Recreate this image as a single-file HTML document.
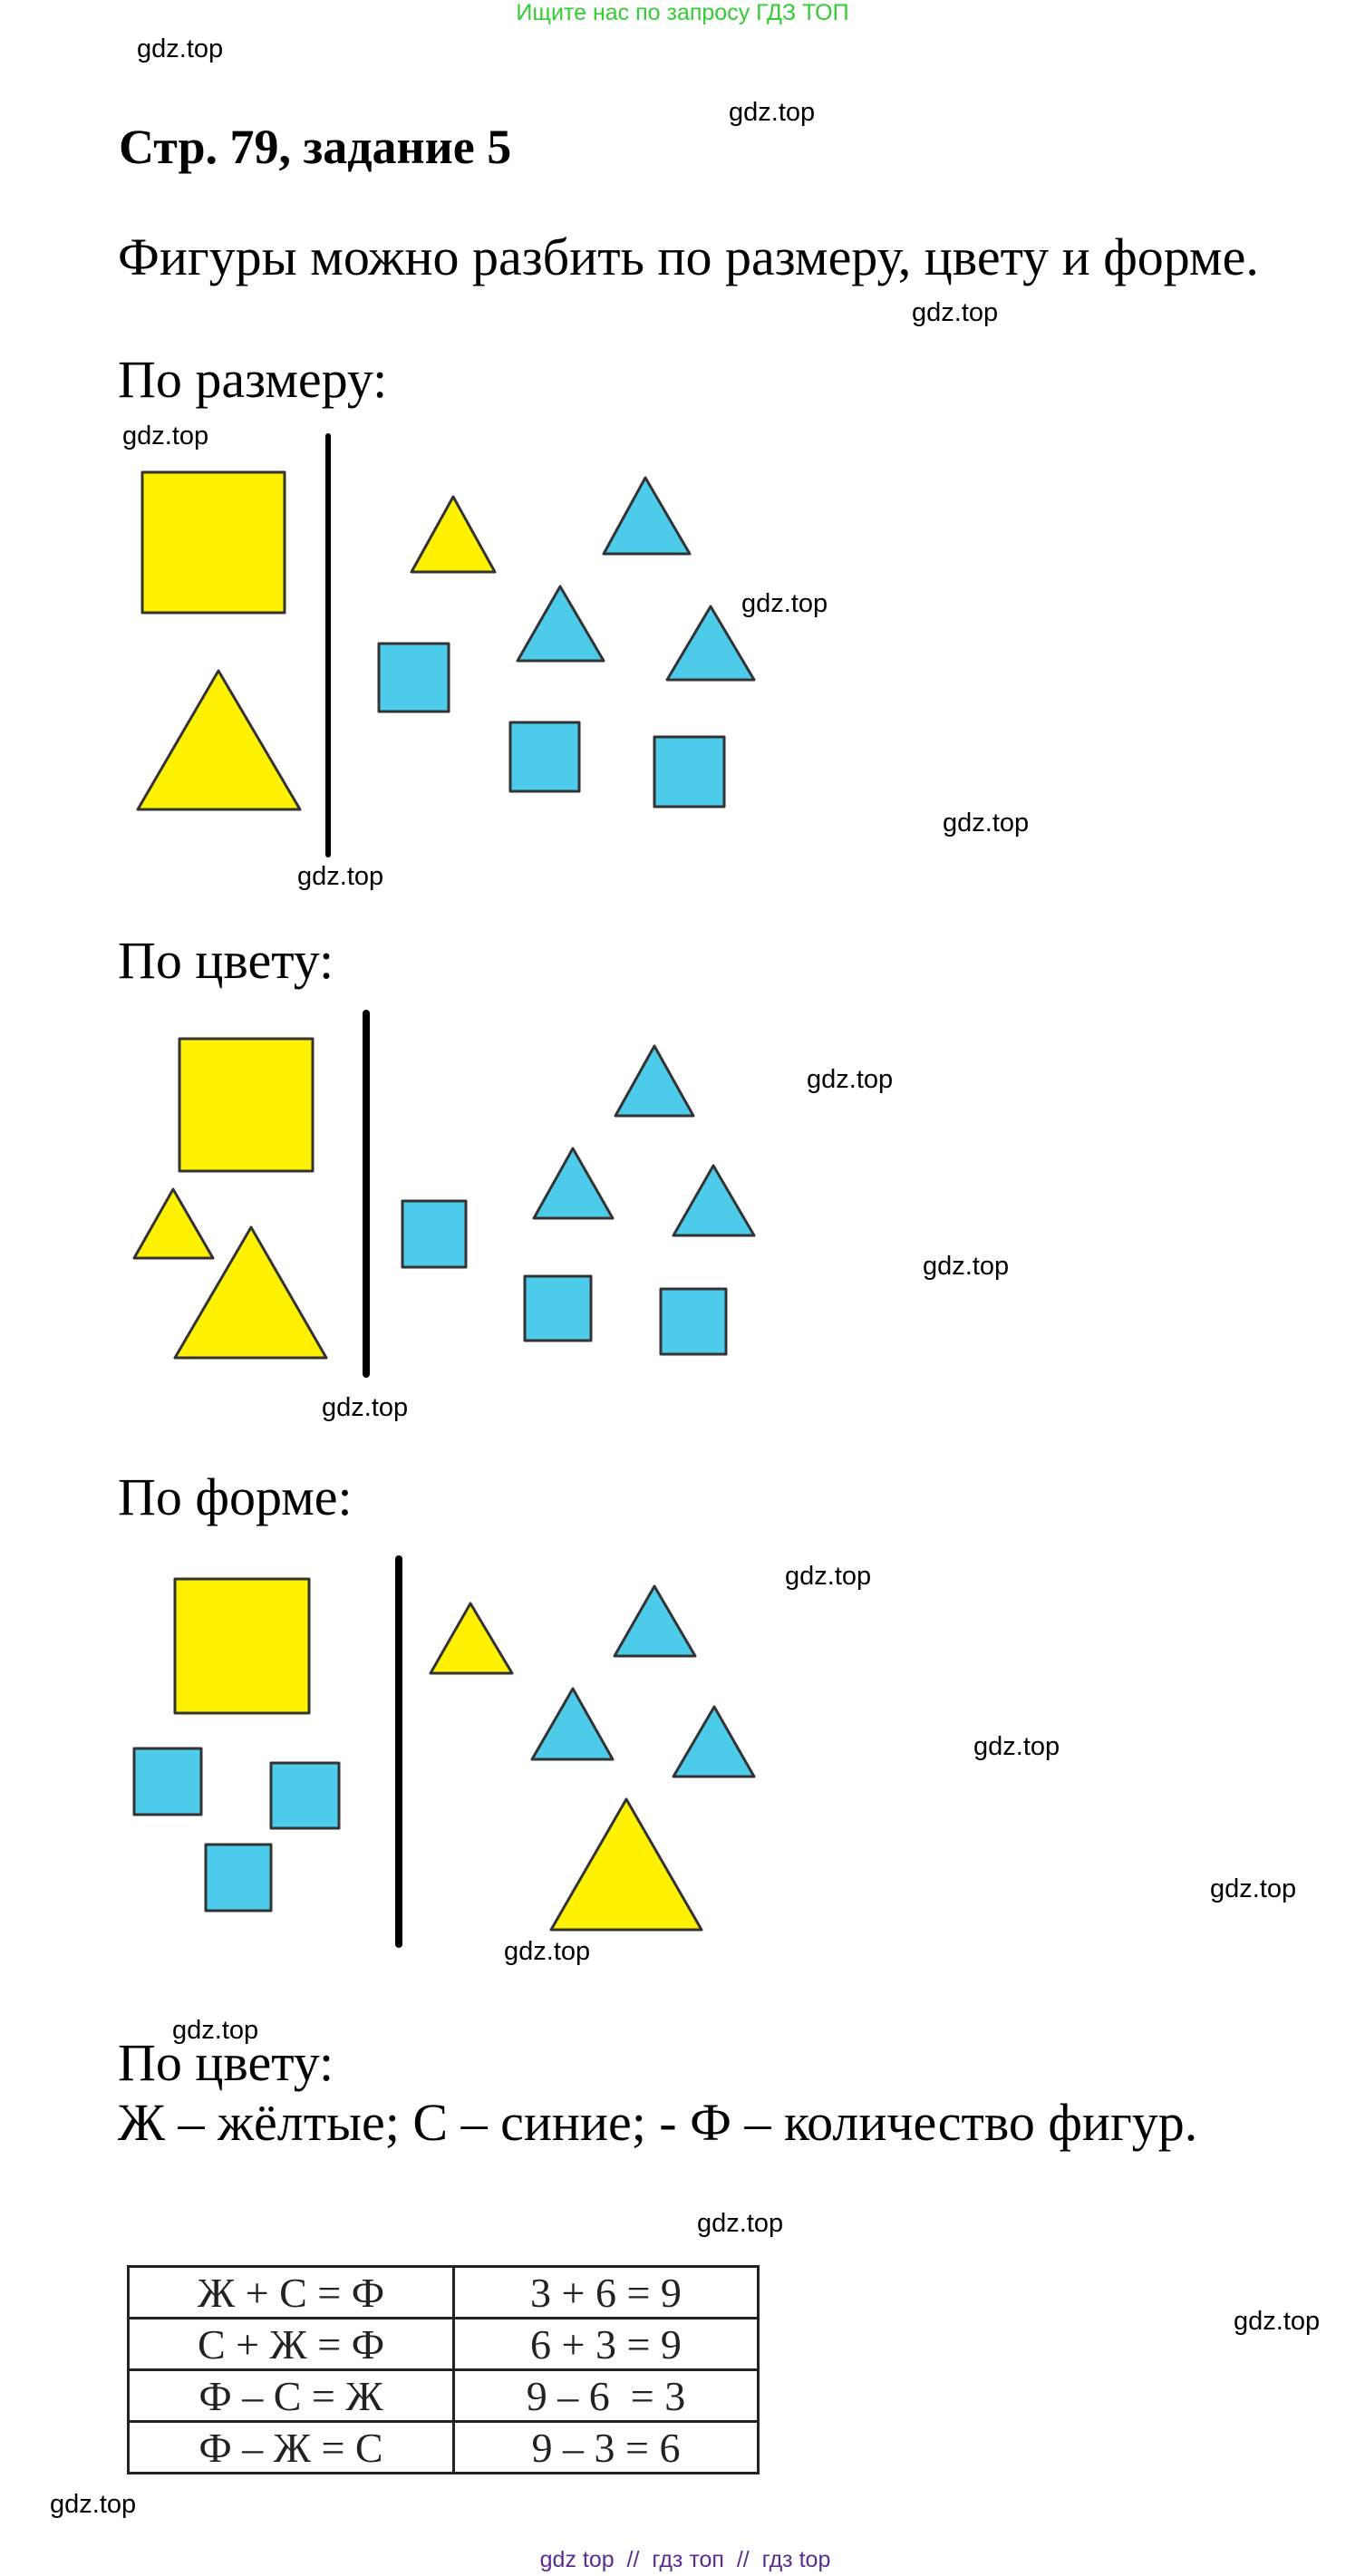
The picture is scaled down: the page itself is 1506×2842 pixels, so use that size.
<!DOCTYPE html>
<html><head><meta charset="utf-8"><style>
body{margin:0;background:#fff;}
#p{position:relative;width:1506px;height:2842px;overflow:hidden;}
.t{position:absolute;white-space:nowrap;font-family:"Liberation Serif",serif;color:#000;line-height:1;}
.g{position:absolute;white-space:nowrap;font-family:"Liberation Sans",sans-serif;font-size:29px;color:#000;line-height:1;}
svg{position:absolute;left:0;top:0;}
td{font-family:"Liberation Serif",serif;font-size:46px;text-align:center;border:3px solid #222;padding:0;height:54px;color:#222;}
</style></head><body><div id="p">
<svg width="1506" height="2842" stroke="#333" stroke-width="3" stroke-linejoin="round">
<g fill="#fff200">
<rect x="157" y="521" width="157" height="155"/>
<polygon points="241,740 152,893 331,893"/>
<polygon points="500,548 454,631 546,631"/>
<rect x="198" y="1146" width="147" height="146"/>
<polygon points="191,1312 148,1388 235,1388"/>
<polygon points="277,1354 193,1498 360,1498"/>
<rect x="193" y="1742" width="148" height="148"/>
<polygon points="519,1769 475,1846 565,1846"/>
<polygon points="691,1985 608,2129 774,2129"/>
</g>
<g fill="#4ccbea">
<polygon points="712,527 666,611 761,611"/>
<polygon points="618,647 571,729 666,729"/>
<polygon points="784,669 736,750 832,750"/>
<rect x="418" y="710" width="77" height="75"/>
<rect x="563" y="797" width="76" height="76"/>
<rect x="722" y="813" width="77" height="77"/>
<polygon points="722,1154 679,1231 765,1231"/>
<polygon points="632,1267 589,1344 676,1344"/>
<polygon points="787,1286 743,1363 832,1363"/>
<rect x="444" y="1325" width="70" height="73"/>
<rect x="579" y="1408" width="73" height="71"/>
<rect x="729" y="1422" width="72" height="72"/>
<rect x="148" y="1929" width="74" height="73"/>
<rect x="299" y="1945" width="75" height="72"/>
<rect x="227" y="2035" width="72" height="73"/>
<polygon points="722,1750 678,1827 767,1827"/>
<polygon points="632,1863 587,1941 676,1941"/>
<polygon points="788,1883 743,1960 832,1960"/>
</g>
<g stroke="#000" stroke-width="8" stroke-linecap="round">
<line x1="362" y1="481" x2="362" y2="943" stroke-width="6"/>
<line x1="404" y1="1118" x2="404" y2="1516"/>
<line x1="440" y1="1720" x2="440" y2="2145"/>
</g>
</svg>
<div class="g" style="left:0;width:1506px;text-align:center;top:2px;font-size:25px;color:#33cc33;">Ищите нас по запросу ГДЗ ТОП</div>
<div class="g" style="left:151px;top:40px;">gdz.top</div>
<div class="g" style="left:804px;top:110px;">gdz.top</div>
<div class="t" style="left:131px;top:135px;font-size:54px;font-weight:bold;">Стр. 79, задание 5</div>
<div class="t" style="left:130px;top:255px;font-size:58px;">Фигуры можно разбить по размеру, цвету и форме.</div>
<div class="g" style="left:1006px;top:331px;">gdz.top</div>
<div class="t" style="left:130px;top:390px;font-size:58px;">По размеру:</div>
<div class="g" style="left:135px;top:467px;">gdz.top</div>
<div class="g" style="left:818px;top:652px;">gdz.top</div>
<div class="g" style="left:1040px;top:894px;">gdz.top</div>
<div class="g" style="left:328px;top:953px;">gdz.top</div>
<div class="t" style="left:130px;top:1031px;font-size:58px;">По цвету:</div>
<div class="g" style="left:890px;top:1177px;">gdz.top</div>
<div class="g" style="left:1018px;top:1383px;">gdz.top</div>
<div class="g" style="left:355px;top:1539px;">gdz.top</div>
<div class="t" style="left:130px;top:1623px;font-size:58px;">По форме:</div>
<div class="g" style="left:866px;top:1725px;">gdz.top</div>
<div class="g" style="left:1074px;top:1913px;">gdz.top</div>
<div class="g" style="left:1335px;top:2070px;">gdz.top</div>
<div class="g" style="left:556px;top:2139px;">gdz.top</div>
<div class="g" style="left:190px;top:2226px;">gdz.top</div>
<div class="t" style="left:130px;top:2247px;font-size:58px;">По цвету:</div>
<div class="t" style="left:130px;top:2313px;font-size:58px;">Ж – жёлтые; С – синие; - Ф – количество фигур.</div>
<div class="g" style="left:769px;top:2439px;">gdz.top</div>
<div class="g" style="left:1361px;top:2547px;">gdz.top</div>
<div class="g" style="left:55px;top:2749px;">gdz.top</div>
<table style="position:absolute;left:140px;top:2499px;width:698px;border-collapse:collapse;">
<tr><td style="width:356px">Ж + С = Ф</td><td>3 + 6 = 9</td></tr>
<tr><td>С + Ж = Ф</td><td>6 + 3 = 9</td></tr>
<tr><td>Ф – С = Ж</td><td>9 – 6 &nbsp;= 3</td></tr>
<tr><td>Ф – Ж = С</td><td>9 – 3 = 6</td></tr>
</table>
<div class="g" style="left:0;width:1512px;text-align:center;top:2812px;font-size:25px;color:#5b2d91;">gdz top &nbsp;// &nbsp;гдз топ &nbsp;// &nbsp;гдз top</div>
</div></body></html>
